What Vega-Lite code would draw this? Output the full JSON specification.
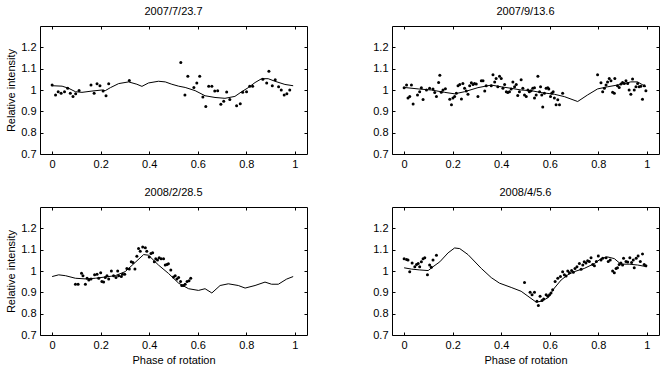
{
  "$schema": "https://vega.github.io/schema/vega-lite/v6.json",
  "background": "white",
  "padding": {"left": 5, "top": 5, "right": 5, "bottom": 5},
  "config": {
    "font": "Liberation Sans",
    "view": {"stroke": "black", "strokeWidth": 1},
    "axis": {"labelFont": "Liberation Sans", "labelFontSize": 11, "labelColor": "black", "titleFont": "Liberation Sans", "titleFontSize": 11, "titleFontWeight": "normal", "titleColor": "black", "tickColor": "black", "tickSize": -3, "labelPadding": 7, "grid": false, "domain": false},
    "title": {"font": "Liberation Sans", "fontSize": 11, "fontWeight": "normal", "color": "black", "offset": 9}
  },
  "datasets": {
    "p1o": [
      {"phase": 0.000, "value": 1.023}, {"phase": 0.014, "value": 0.977}, {"phase": 0.025, "value": 0.992}, {"phase": 0.037, "value": 0.985}, {"phase": 0.051, "value": 0.992}, {"phase": 0.064, "value": 1.008}, {"phase": 0.075, "value": 0.985}, {"phase": 0.086, "value": 0.970}, {"phase": 0.097, "value": 0.982}, {"phase": 0.111, "value": 0.998}, {"phase": 0.160, "value": 1.023}, {"phase": 0.173, "value": 0.985}, {"phase": 0.185, "value": 1.029}, {"phase": 0.197, "value": 1.020}, {"phase": 0.210, "value": 0.995}, {"phase": 0.222, "value": 0.973}, {"phase": 0.233, "value": 1.029}, {"phase": 0.318, "value": 1.044}, {"phase": 0.530, "value": 1.129}, {"phase": 0.547, "value": 0.977}, {"phase": 0.559, "value": 1.065}, {"phase": 0.584, "value": 1.012}, {"phase": 0.596, "value": 1.033}, {"phase": 0.608, "value": 1.065}, {"phase": 0.621, "value": 0.967}, {"phase": 0.633, "value": 0.923}, {"phase": 0.645, "value": 1.017}, {"phase": 0.658, "value": 1.017}, {"phase": 0.670, "value": 0.995}, {"phase": 0.682, "value": 0.997}, {"phase": 0.695, "value": 0.933}, {"phase": 0.707, "value": 0.947}, {"phase": 0.719, "value": 0.991}, {"phase": 0.732, "value": 0.955}, {"phase": 0.760, "value": 0.926}, {"phase": 0.775, "value": 0.935}, {"phase": 0.785, "value": 0.989}, {"phase": 0.801, "value": 0.992}, {"phase": 0.814, "value": 1.018}, {"phase": 0.826, "value": 1.017}, {"phase": 0.868, "value": 1.050}, {"phase": 0.884, "value": 1.033}, {"phase": 0.893, "value": 1.088}, {"phase": 0.907, "value": 1.020}, {"phase": 0.919, "value": 1.048}, {"phase": 0.933, "value": 1.015}, {"phase": 0.944, "value": 1.000}, {"phase": 0.956, "value": 0.976}, {"phase": 0.967, "value": 0.982}, {"phase": 0.979, "value": 1.000}
    ],
    "p1m": [
      {"phase": 0.000, "value": 1.020}, {"phase": 0.041, "value": 1.018}, {"phase": 0.068, "value": 1.008}, {"phase": 0.096, "value": 0.992}, {"phase": 0.123, "value": 0.989}, {"phase": 0.164, "value": 0.995}, {"phase": 0.205, "value": 1.000}, {"phase": 0.219, "value": 0.997}, {"phase": 0.240, "value": 1.011}, {"phase": 0.274, "value": 1.030}, {"phase": 0.315, "value": 1.038}, {"phase": 0.349, "value": 1.027}, {"phase": 0.370, "value": 1.017}, {"phase": 0.397, "value": 1.033}, {"phase": 0.438, "value": 1.041}, {"phase": 0.466, "value": 1.038}, {"phase": 0.493, "value": 1.027}, {"phase": 0.521, "value": 1.018}, {"phase": 0.548, "value": 1.012}, {"phase": 0.589, "value": 0.997}, {"phase": 0.630, "value": 0.973}, {"phase": 0.671, "value": 0.965}, {"phase": 0.712, "value": 0.961}, {"phase": 0.753, "value": 0.970}, {"phase": 0.781, "value": 0.992}, {"phase": 0.808, "value": 1.011}, {"phase": 0.836, "value": 1.035}, {"phase": 0.863, "value": 1.053}, {"phase": 0.890, "value": 1.053}, {"phase": 0.918, "value": 1.041}, {"phase": 0.959, "value": 1.026}, {"phase": 0.993, "value": 1.020}
    ],
    "p2o": [
      {"phase": 0.000, "value": 1.011}, {"phase": 0.010, "value": 1.023}, {"phase": 0.016, "value": 0.962}, {"phase": 0.023, "value": 0.969}, {"phase": 0.030, "value": 1.023}, {"phase": 0.037, "value": 0.934}, {"phase": 0.055, "value": 0.977}, {"phase": 0.064, "value": 0.992}, {"phase": 0.071, "value": 1.011}, {"phase": 0.078, "value": 0.955}, {"phase": 0.092, "value": 1.000}, {"phase": 0.105, "value": 1.008}, {"phase": 0.119, "value": 1.005}, {"phase": 0.126, "value": 0.988}, {"phase": 0.133, "value": 0.969}, {"phase": 0.142, "value": 1.035}, {"phase": 0.147, "value": 1.069}, {"phase": 0.153, "value": 0.989}, {"phase": 0.160, "value": 1.000}, {"phase": 0.170, "value": 1.006}, {"phase": 0.188, "value": 0.957}, {"phase": 0.195, "value": 0.931}, {"phase": 0.201, "value": 0.962}, {"phase": 0.208, "value": 0.969}, {"phase": 0.215, "value": 0.985}, {"phase": 0.222, "value": 1.020}, {"phase": 0.229, "value": 1.026}, {"phase": 0.236, "value": 0.958}, {"phase": 0.242, "value": 1.031}, {"phase": 0.249, "value": 1.008}, {"phase": 0.256, "value": 0.995}, {"phase": 0.263, "value": 0.980}, {"phase": 0.270, "value": 1.020}, {"phase": 0.277, "value": 1.034}, {"phase": 0.284, "value": 1.026}, {"phase": 0.290, "value": 1.031}, {"phase": 0.297, "value": 1.028}, {"phase": 0.304, "value": 0.969}, {"phase": 0.318, "value": 1.043}, {"phase": 0.325, "value": 1.043}, {"phase": 0.332, "value": 0.995}, {"phase": 0.338, "value": 1.020}, {"phase": 0.359, "value": 1.020}, {"phase": 0.366, "value": 1.072}, {"phase": 0.373, "value": 1.038}, {"phase": 0.379, "value": 1.054}, {"phase": 0.386, "value": 1.015}, {"phase": 0.393, "value": 1.065}, {"phase": 0.400, "value": 1.054}, {"phase": 0.407, "value": 1.008}, {"phase": 0.414, "value": 1.026}, {"phase": 0.421, "value": 0.992}, {"phase": 0.427, "value": 0.988}, {"phase": 0.434, "value": 0.992}, {"phase": 0.441, "value": 1.005}, {"phase": 0.448, "value": 1.038}, {"phase": 0.455, "value": 1.015}, {"phase": 0.462, "value": 1.026}, {"phase": 0.468, "value": 0.974}, {"phase": 0.475, "value": 0.992}, {"phase": 0.482, "value": 1.048}, {"phase": 0.489, "value": 1.008}, {"phase": 0.496, "value": 0.977}, {"phase": 0.503, "value": 0.969}, {"phase": 0.510, "value": 1.000}, {"phase": 0.516, "value": 0.992}, {"phase": 0.523, "value": 0.997}, {"phase": 0.530, "value": 1.008}, {"phase": 0.537, "value": 1.011}, {"phase": 0.544, "value": 0.977}, {"phase": 0.537, "value": 0.962}, {"phase": 0.551, "value": 1.065}, {"phase": 0.558, "value": 0.992}, {"phase": 0.562, "value": 1.015}, {"phase": 0.567, "value": 0.977}, {"phase": 0.571, "value": 0.920}, {"phase": 0.578, "value": 0.985}, {"phase": 0.585, "value": 1.008}, {"phase": 0.592, "value": 1.011}, {"phase": 0.596, "value": 1.005}, {"phase": 0.603, "value": 0.969}, {"phase": 0.608, "value": 0.985}, {"phase": 0.614, "value": 0.992}, {"phase": 0.619, "value": 0.962}, {"phase": 0.626, "value": 0.931}, {"phase": 0.633, "value": 0.954}, {"phase": 0.640, "value": 0.931}, {"phase": 0.653, "value": 0.985},
      {"phase": 0.797, "value": 1.072}, {"phase": 0.811, "value": 1.034}, {"phase": 0.818, "value": 0.992}, {"phase": 0.825, "value": 1.008}, {"phase": 0.832, "value": 1.023}, {"phase": 0.838, "value": 1.038}, {"phase": 0.845, "value": 1.054}, {"phase": 0.852, "value": 1.043}, {"phase": 0.859, "value": 0.989}, {"phase": 0.866, "value": 0.985}, {"phase": 0.868, "value": 1.054}, {"phase": 0.879, "value": 1.020}, {"phase": 0.886, "value": 1.012}, {"phase": 0.893, "value": 1.028}, {"phase": 0.900, "value": 1.035}, {"phase": 0.907, "value": 1.031}, {"phase": 0.914, "value": 1.043}, {"phase": 0.921, "value": 1.031}, {"phase": 0.927, "value": 1.000}, {"phase": 0.934, "value": 0.980}, {"phase": 0.941, "value": 1.052}, {"phase": 0.948, "value": 1.000}, {"phase": 0.955, "value": 1.015}, {"phase": 0.962, "value": 1.031}, {"phase": 0.968, "value": 1.015}, {"phase": 0.975, "value": 1.018}, {"phase": 0.982, "value": 0.957}, {"phase": 0.989, "value": 1.020}, {"phase": 0.996, "value": 0.997}
    ],
    "p2m": [
      {"phase": 0.000, "value": 1.012}, {"phase": 0.058, "value": 1.005}, {"phase": 0.112, "value": 1.000}, {"phase": 0.167, "value": 0.989}, {"phase": 0.208, "value": 0.982}, {"phase": 0.249, "value": 0.992}, {"phase": 0.304, "value": 1.011}, {"phase": 0.359, "value": 1.023}, {"phase": 0.400, "value": 1.015}, {"phase": 0.441, "value": 1.008}, {"phase": 0.482, "value": 1.000}, {"phase": 0.523, "value": 0.997}, {"phase": 0.564, "value": 0.988}, {"phase": 0.619, "value": 0.980}, {"phase": 0.660, "value": 0.969}, {"phase": 0.715, "value": 0.946}, {"phase": 0.756, "value": 0.977}, {"phase": 0.797, "value": 1.005}, {"phase": 0.838, "value": 1.015}, {"phase": 0.893, "value": 1.026}, {"phase": 0.934, "value": 1.038}, {"phase": 0.962, "value": 1.038}, {"phase": 0.996, "value": 1.015}
    ],
    "p3o": [
      {"phase": 0.096, "value": 0.938}, {"phase": 0.107, "value": 0.938}, {"phase": 0.121, "value": 0.989}, {"phase": 0.127, "value": 0.978}, {"phase": 0.137, "value": 0.938}, {"phase": 0.144, "value": 0.966}, {"phase": 0.151, "value": 0.958}, {"phase": 0.160, "value": 0.962}, {"phase": 0.175, "value": 0.982}, {"phase": 0.185, "value": 0.985}, {"phase": 0.192, "value": 0.966}, {"phase": 0.200, "value": 0.992}, {"phase": 0.205, "value": 0.951}, {"phase": 0.212, "value": 0.948}, {"phase": 0.219, "value": 0.969}, {"phase": 0.226, "value": 0.978}, {"phase": 0.233, "value": 0.962}, {"phase": 0.244, "value": 1.000}, {"phase": 0.253, "value": 0.978}, {"phase": 0.263, "value": 0.969}, {"phase": 0.270, "value": 1.000}, {"phase": 0.274, "value": 0.978}, {"phase": 0.285, "value": 0.974}, {"phase": 0.290, "value": 0.985}, {"phase": 0.299, "value": 0.985}, {"phase": 0.308, "value": 1.012}, {"phase": 0.318, "value": 1.009}, {"phase": 0.326, "value": 1.043}, {"phase": 0.333, "value": 1.040}, {"phase": 0.341, "value": 1.009}, {"phase": 0.349, "value": 1.069}, {"phase": 0.356, "value": 1.105}, {"phase": 0.363, "value": 1.092}, {"phase": 0.373, "value": 1.112}, {"phase": 0.384, "value": 1.109}, {"phase": 0.390, "value": 1.092}, {"phase": 0.400, "value": 1.066}, {"phase": 0.407, "value": 1.082}, {"phase": 0.414, "value": 1.085}, {"phase": 0.421, "value": 1.043}, {"phase": 0.427, "value": 1.058}, {"phase": 0.434, "value": 1.051}, {"phase": 0.441, "value": 1.062}, {"phase": 0.449, "value": 1.058}, {"phase": 0.459, "value": 1.058}, {"phase": 0.466, "value": 1.028}, {"phase": 0.473, "value": 1.031}, {"phase": 0.479, "value": 1.034}, {"phase": 0.489, "value": 1.005}, {"phase": 0.500, "value": 0.972}, {"phase": 0.507, "value": 0.978}, {"phase": 0.514, "value": 0.963}, {"phase": 0.521, "value": 0.969}, {"phase": 0.529, "value": 0.951}, {"phase": 0.534, "value": 0.932}, {"phase": 0.541, "value": 0.932}, {"phase": 0.548, "value": 0.938}, {"phase": 0.556, "value": 0.951}, {"phase": 0.564, "value": 0.954}, {"phase": 0.571, "value": 0.966}
    ],
    "p3m": [
      {"phase": 0.000, "value": 0.974}, {"phase": 0.027, "value": 0.982}, {"phase": 0.055, "value": 0.978}, {"phase": 0.096, "value": 0.966}, {"phase": 0.137, "value": 0.963}, {"phase": 0.178, "value": 0.966}, {"phase": 0.219, "value": 0.972}, {"phase": 0.260, "value": 0.978}, {"phase": 0.301, "value": 0.997}, {"phase": 0.342, "value": 1.040}, {"phase": 0.377, "value": 1.077}, {"phase": 0.397, "value": 1.074}, {"phase": 0.438, "value": 1.028}, {"phase": 0.479, "value": 0.989}, {"phase": 0.521, "value": 0.943}, {"phase": 0.562, "value": 0.917}, {"phase": 0.603, "value": 0.909}, {"phase": 0.630, "value": 0.917}, {"phase": 0.658, "value": 0.897}, {"phase": 0.692, "value": 0.932}, {"phase": 0.726, "value": 0.940}, {"phase": 0.767, "value": 0.932}, {"phase": 0.795, "value": 0.920}, {"phase": 0.836, "value": 0.932}, {"phase": 0.877, "value": 0.948}, {"phase": 0.904, "value": 0.938}, {"phase": 0.932, "value": 0.938}, {"phase": 0.966, "value": 0.962}, {"phase": 0.993, "value": 0.974}
    ],
    "p4o": [
      {"phase": 0.000, "value": 1.058}, {"phase": 0.010, "value": 1.054}, {"phase": 0.016, "value": 1.051}, {"phase": 0.023, "value": 0.997}, {"phase": 0.033, "value": 1.038}, {"phase": 0.044, "value": 1.020}, {"phase": 0.051, "value": 1.031}, {"phase": 0.058, "value": 1.035}, {"phase": 0.064, "value": 1.020}, {"phase": 0.071, "value": 1.043}, {"phase": 0.078, "value": 1.058}, {"phase": 0.085, "value": 1.062}, {"phase": 0.096, "value": 0.982}, {"phase": 0.105, "value": 1.028}, {"phase": 0.112, "value": 1.017}, {"phase": 0.119, "value": 1.051}, {"phase": 0.133, "value": 1.074},
      {"phase": 0.496, "value": 0.946}, {"phase": 0.519, "value": 0.900}, {"phase": 0.527, "value": 0.889}, {"phase": 0.537, "value": 0.900}, {"phase": 0.547, "value": 0.858}, {"phase": 0.553, "value": 0.838}, {"phase": 0.560, "value": 0.882}, {"phase": 0.568, "value": 0.862}, {"phase": 0.575, "value": 0.869}, {"phase": 0.585, "value": 0.889}, {"phase": 0.592, "value": 0.882}, {"phase": 0.599, "value": 0.889}, {"phase": 0.605, "value": 0.897}, {"phase": 0.612, "value": 0.912}, {"phase": 0.622, "value": 0.951}, {"phase": 0.633, "value": 0.966}, {"phase": 0.644, "value": 0.974}, {"phase": 0.653, "value": 0.997}, {"phase": 0.660, "value": 0.982}, {"phase": 0.667, "value": 0.976}, {"phase": 0.674, "value": 1.000}, {"phase": 0.681, "value": 0.992}, {"phase": 0.690, "value": 1.002}, {"phase": 0.697, "value": 0.994}, {"phase": 0.704, "value": 1.012}, {"phase": 0.712, "value": 1.020}, {"phase": 0.722, "value": 1.035}, {"phase": 0.729, "value": 1.008}, {"phase": 0.736, "value": 1.028}, {"phase": 0.742, "value": 1.043}, {"phase": 0.749, "value": 1.038}, {"phase": 0.756, "value": 1.048}, {"phase": 0.763, "value": 1.045}, {"phase": 0.770, "value": 1.062}, {"phase": 0.777, "value": 1.030}, {"phase": 0.784, "value": 1.025}, {"phase": 0.792, "value": 1.045}, {"phase": 0.800, "value": 1.070}, {"phase": 0.811, "value": 1.052}, {"phase": 0.818, "value": 1.060}, {"phase": 0.832, "value": 1.062}, {"phase": 0.841, "value": 1.045}, {"phase": 0.849, "value": 1.052}, {"phase": 0.859, "value": 1.000}, {"phase": 0.866, "value": 0.992}, {"phase": 0.873, "value": 1.012}, {"phase": 0.879, "value": 1.015}, {"phase": 0.886, "value": 1.030}, {"phase": 0.893, "value": 1.038}, {"phase": 0.900, "value": 1.028}, {"phase": 0.904, "value": 1.060}, {"phase": 0.914, "value": 1.045}, {"phase": 0.921, "value": 1.042}, {"phase": 0.930, "value": 1.062}, {"phase": 0.937, "value": 1.040}, {"phase": 0.944, "value": 1.052}, {"phase": 0.948, "value": 1.015}, {"phase": 0.956, "value": 1.060}, {"phase": 0.964, "value": 1.070}, {"phase": 0.973, "value": 1.045}, {"phase": 0.982, "value": 1.080}, {"phase": 0.989, "value": 1.030}, {"phase": 0.996, "value": 1.025}
    ],
    "p4m": [
      {"phase": 0.000, "value": 1.015}, {"phase": 0.030, "value": 1.009}, {"phase": 0.064, "value": 1.005}, {"phase": 0.099, "value": 1.002}, {"phase": 0.119, "value": 1.020}, {"phase": 0.147, "value": 1.043}, {"phase": 0.181, "value": 1.085}, {"phase": 0.208, "value": 1.108}, {"phase": 0.229, "value": 1.105}, {"phase": 0.263, "value": 1.077}, {"phase": 0.318, "value": 1.012}, {"phase": 0.359, "value": 0.969}, {"phase": 0.393, "value": 0.943}, {"phase": 0.441, "value": 0.923}, {"phase": 0.482, "value": 0.905}, {"phase": 0.510, "value": 0.882}, {"phase": 0.544, "value": 0.854}, {"phase": 0.564, "value": 0.858}, {"phase": 0.592, "value": 0.874}, {"phase": 0.619, "value": 0.920}, {"phase": 0.647, "value": 0.958}, {"phase": 0.674, "value": 0.982}, {"phase": 0.701, "value": 0.997}, {"phase": 0.742, "value": 1.012}, {"phase": 0.784, "value": 1.035}, {"phase": 0.811, "value": 1.058}, {"phase": 0.838, "value": 1.066}, {"phase": 0.866, "value": 1.058}, {"phase": 0.893, "value": 1.032}, {"phase": 0.927, "value": 1.032}, {"phase": 0.962, "value": 1.028}, {"phase": 1.000, "value": 1.020}
    ]
  },
  "columns": 2,
  "bounds": "flush",
  "spacing": {"row": 53, "column": 85},
  "concat": [
    {
      "width": 267, "height": 128,
      "title": "2007/7/23.7",
      "layer": [
        {"data": {"name": "p1m"}, "mark": {"type": "line", "color": "black", "strokeWidth": 1},
         "encoding": {
           "x": {"field": "phase", "type": "quantitative", "scale": {"domain": [-0.05, 1.05], "nice": false, "zero": false}, "axis": {"orient": "top", "labels": false, "title": null, "values": [0, 0.2, 0.4, 0.6, 0.8, 1]}},
           "y": {"field": "value", "type": "quantitative", "scale": {"domain": [0.7, 1.3], "nice": false, "zero": false}, "axis": {"orient": "right", "labels": false, "title": null, "values": [0.8, 0.9, 1, 1.1, 1.2]}}}},
        {"data": {"name": "p1o"}, "mark": {"type": "circle", "color": "black", "size": 9, "opacity": 1},
         "encoding": {
           "x": {"field": "phase", "type": "quantitative", "axis": {"orient": "bottom", "title": null, "values": [0, 0.2, 0.4, 0.6, 0.8, 1], "format": "~g"}},
           "y": {"field": "value", "type": "quantitative", "axis": {"orient": "left", "title": "Relative intensity", "values": [0.7, 0.8, 0.9, 1, 1.1, 1.2], "format": "~g"}}}}
      ],
      "resolve": {"axis": {"x": "independent", "y": "independent"}}
    },
    {
      "width": 267, "height": 128,
      "title": "2007/9/13.6",
      "layer": [
        {"data": {"name": "p2m"}, "mark": {"type": "line", "color": "black", "strokeWidth": 1},
         "encoding": {
           "x": {"field": "phase", "type": "quantitative", "scale": {"domain": [-0.05, 1.05], "nice": false, "zero": false}, "axis": {"orient": "top", "labels": false, "title": null, "values": [0, 0.2, 0.4, 0.6, 0.8, 1]}},
           "y": {"field": "value", "type": "quantitative", "scale": {"domain": [0.7, 1.3], "nice": false, "zero": false}, "axis": {"orient": "right", "labels": false, "title": null, "values": [0.8, 0.9, 1, 1.1, 1.2]}}}},
        {"data": {"name": "p2o"}, "mark": {"type": "circle", "color": "black", "size": 9, "opacity": 1},
         "encoding": {
           "x": {"field": "phase", "type": "quantitative", "axis": {"orient": "bottom", "title": null, "values": [0, 0.2, 0.4, 0.6, 0.8, 1], "format": "~g"}},
           "y": {"field": "value", "type": "quantitative", "axis": {"orient": "left", "title": null, "values": [0.7, 0.8, 0.9, 1, 1.1, 1.2], "format": "~g"}}}}
      ],
      "resolve": {"axis": {"x": "independent", "y": "independent"}}
    },
    {
      "width": 267, "height": 128,
      "title": "2008/2/28.5",
      "layer": [
        {"data": {"name": "p3m"}, "mark": {"type": "line", "color": "black", "strokeWidth": 1},
         "encoding": {
           "x": {"field": "phase", "type": "quantitative", "scale": {"domain": [-0.05, 1.05], "nice": false, "zero": false}, "axis": {"orient": "top", "labels": false, "title": null, "values": [0, 0.2, 0.4, 0.6, 0.8, 1]}},
           "y": {"field": "value", "type": "quantitative", "scale": {"domain": [0.7, 1.3], "nice": false, "zero": false}, "axis": {"orient": "right", "labels": false, "title": null, "values": [0.8, 0.9, 1, 1.1, 1.2]}}}},
        {"data": {"name": "p3o"}, "mark": {"type": "circle", "color": "black", "size": 9, "opacity": 1},
         "encoding": {
           "x": {"field": "phase", "type": "quantitative", "axis": {"orient": "bottom", "title": "Phase of rotation", "values": [0, 0.2, 0.4, 0.6, 0.8, 1], "format": "~g"}},
           "y": {"field": "value", "type": "quantitative", "axis": {"orient": "left", "title": "Relative intensity", "values": [0.7, 0.8, 0.9, 1, 1.1, 1.2], "format": "~g"}}}}
      ],
      "resolve": {"axis": {"x": "independent", "y": "independent"}}
    },
    {
      "width": 267, "height": 128,
      "title": "2008/4/5.6",
      "layer": [
        {"data": {"name": "p4m"}, "mark": {"type": "line", "color": "black", "strokeWidth": 1},
         "encoding": {
           "x": {"field": "phase", "type": "quantitative", "scale": {"domain": [-0.05, 1.05], "nice": false, "zero": false}, "axis": {"orient": "top", "labels": false, "title": null, "values": [0, 0.2, 0.4, 0.6, 0.8, 1]}},
           "y": {"field": "value", "type": "quantitative", "scale": {"domain": [0.7, 1.3], "nice": false, "zero": false}, "axis": {"orient": "right", "labels": false, "title": null, "values": [0.8, 0.9, 1, 1.1, 1.2]}}}},
        {"data": {"name": "p4o"}, "mark": {"type": "circle", "color": "black", "size": 9, "opacity": 1},
         "encoding": {
           "x": {"field": "phase", "type": "quantitative", "axis": {"orient": "bottom", "title": "Phase of rotation", "values": [0, 0.2, 0.4, 0.6, 0.8, 1], "format": "~g"}},
           "y": {"field": "value", "type": "quantitative", "axis": {"orient": "left", "title": null, "values": [0.7, 0.8, 0.9, 1, 1.1, 1.2], "format": "~g"}}}}
      ],
      "resolve": {"axis": {"x": "independent", "y": "independent"}}
    }
  ]
}
